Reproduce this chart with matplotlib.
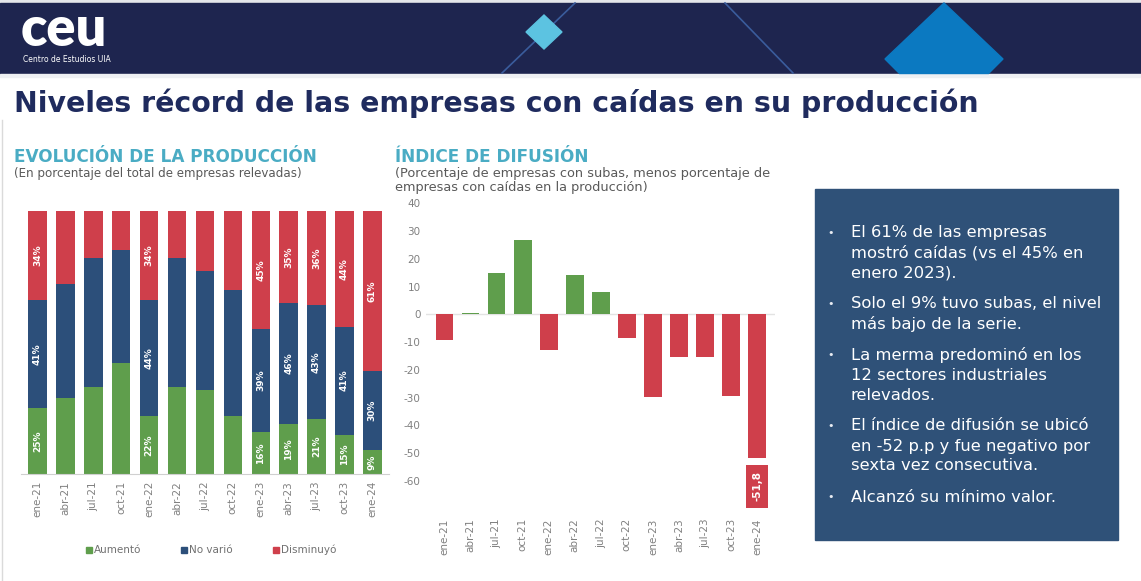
import numpy as np
import matplotlib
matplotlib.use("Agg")
import matplotlib.pyplot as plt
from matplotlib.patches import Rectangle, Polygon
from matplotlib.lines import Line2D

# ---- data ----
periods = ["ene-21", "abr-21", "jul-21", "oct-21", "ene-22", "abr-22", "jul-22",
           "oct-22", "ene-23", "abr-23", "jul-23", "oct-23", "ene-24"]
aumento = [25, 29, 33, 42, 22, 33, 32, 22, 16, 19, 21, 15, 9]
no_vario = [41, 43, 49, 43, 44, 49, 45, 48, 39, 46, 43, 41, 30]
disminuyo = [34, 28, 18, 15, 34, 18, 23, 30, 45, 35, 36, 44, 61]
labeled = ["ene-21", "ene-22", "ene-23", "abr-23", "jul-23", "oct-23", "ene-24"]
difusion = [-9.3, 0.6, 15.0, 26.6, -12.7, 14.0, 7.9, -8.6, -29.7, -15.3, -15.3, -29.6, -51.8]

bullets = [
    ["El 61% de las empresas", "mostró caídas (vs el 45% en", "enero 2023)."],
    ["Solo el 9% tuvo subas, el nivel", "más bajo de la serie."],
    ["La merma predominó en los", "12 sectores industriales", "relevados."],
    ["El índice de difusión se ubicó", "en -52 p.p y fue negativo por",
     "sexta vez consecutiva."],
    ["Alcanzó su mínimo valor."],
]

GREEN = "#5f9e4c"
BLUE = "#2c4f7a"
RED = "#cf3f4b"
NAVY = "#1e254f"
TEAL = "#4aacc4"
GRAY = "#808080"

W, H = 1141, 581
fig = plt.figure(figsize=(W / 100, H / 100), dpi=100)
fig.patch.set_facecolor("white")


def rect(x0, y0, x1, y1):
    # pixel box (top-left origin) -> figure fraction
    return [x0 / W, 1 - y1 / H, (x1 - x0) / W, (y1 - y0) / H]


# background / decoration layer in pixel coords
bg = fig.add_axes([0, 0, 1, 1])
bg.set_xlim(0, W)
bg.set_ylim(H, 0)
bg.axis("off")
bg.add_patch(Rectangle((0, 0), W, 3, color="#e4e6ea"))
bg.add_patch(Rectangle((0, 3), W, 71, color=NAVY))
bg.add_patch(Rectangle((0, 74), W, 3, color="#eef0f3"))
bg.plot([1.5, 1.5], [120, H], color="#dadada", lw=1)
bg.plot([502, 575], [73, 3], color="#3a5c9c", lw=1.2, zorder=1)
bg.plot([725, 793], [3, 73], color="#3a5c9c", lw=1.2, zorder=1)
bg.add_patch(Polygon([[544, 15], [562, 32], [544, 49], [526, 32]],
                     color="#5cc3e1", zorder=3))
bg.add_patch(Polygon([[944, 3], [1003, 59], [988.5, 73.5], [899.5, 73.5], [885, 59]],
                     color="#0b79c1", zorder=3))
bg.text(21, 30, "ceu", color="white", fontsize=39, fontweight="heavy",
        family="Lato", va="center", ha="left")
bg.text(23, 60, "Centro de Estudios UIA", color="white", fontsize=5.5,
        va="center", ha="left")

bg.text(14, 103, "Niveles récord de las empresas con caídas en su producción",
        color="#1f2b5e", fontsize=20.4, fontweight="bold", va="center", ha="left")

bg.text(14, 157, "EVOLUCIÓN DE LA PRODUCCIÓN", color=TEAL, fontsize=12.2,
        fontweight="bold", va="center", ha="left")
bg.text(14, 174, "(En porcentaje del total de empresas relevadas)", color="#595959",
        fontsize=8.6, va="center", ha="left")
bg.text(395, 157, "ÍNDICE DE DIFUSIÓN", color=TEAL, fontsize=12.2,
        fontweight="bold", va="center", ha="left")
bg.text(395, 174, "(Porcentaje de empresas con subas, menos porcentaje de",
        color="#595959", fontsize=9.3, va="center", ha="left")
bg.text(395, 188, "empresas con caídas en la producción)",
        color="#595959", fontsize=9.3, va="center", ha="left")

# text box
bg.add_patch(Rectangle((815, 189), 303, 351, color="#2f5178"))
y = 233
for group in bullets:
    bg.text(827, y, "•", color="#e8ecf2", fontsize=8, va="center", ha="left")
    for line in group:
        bg.text(851, y, line, color="white", fontsize=11.8, va="center", ha="left")
        y += 20
    y += 11

# ---- left chart: stacked bars ----
x = np.arange(len(periods))
ax = fig.add_axes(rect(20.8, 210.7, 389.1, 474))
ax.bar(x, aumento, width=0.66, color=GREEN)
ax.bar(x, no_vario, width=0.66, bottom=aumento, color=BLUE)
bot3 = np.array(aumento) + np.array(no_vario)
ax.bar(x, disminuyo, width=0.66, bottom=bot3, color=RED)
ax.set_xlim(-0.6, 12.6)
ax.set_ylim(0, 100)
for s in ["top", "right", "left"]:
    ax.spines[s].set_visible(False)
ax.spines["bottom"].set_color("#d0d0d0")
ax.set_yticks([])
ax.set_xticks(x)
ax.set_xticklabels(periods, rotation=90, color=GRAY, fontsize=7.5)
ax.tick_params(axis="x", length=0, pad=5)
for i, p in enumerate(periods):
    if p not in labeled:
        continue
    segs = [(0, aumento[i]), (aumento[i], no_vario[i]), (bot3[i], disminuyo[i])]
    for start, v in segs:
        ax.text(i, start + v / 2, f"{v}%", rotation=90, color="white",
                fontsize=6.5, fontweight="bold", ha="center", va="center")

handles = [Line2D([], [], marker="s", ls="", color=c, markersize=5)
           for c in (GREEN, BLUE, RED)]
fig.legend(handles, ["Aumentó", "No varió", "Disminuyó"], loc="center",
           bbox_to_anchor=(210 / W, 1 - 550 / H), ncol=3, frameon=False,
           fontsize=7.5, labelcolor="#707070", handletextpad=0.0, columnspacing=3.6,
           handlelength=1.0)

# ---- right chart: diffusion index ----
ax2 = fig.add_axes(rect(426.3, 203.3, 775.3, 508.5))
cols = [GREEN if v > 0 else RED for v in difusion]
ax2.bar(x, difusion, width=0.68, color=cols)
ax2.set_xlim(-0.7, 12.7)
ax2.set_ylim(-70, 40)
ax2.axhline(0, color="#e3e3e3", lw=1, zorder=0)
for s in ax2.spines.values():
    s.set_visible(False)
ax2.set_yticks(np.arange(-60, 41, 10))
ax2.set_yticklabels([str(t) for t in np.arange(-60, 41, 10)], color=GRAY, fontsize=7.5)
ax2.tick_params(axis="y", length=0, pad=4)
ax2.set_xticks(x)
ax2.set_xticklabels(periods, rotation=90, color=GRAY, fontsize=7.5)
ax2.tick_params(axis="x", length=0, pad=7)
last = difusion[-1]
ax2.text(x[-1], last - 10.2, f"{last:.1f}".replace(".", ","), rotation=90,
         color="white", fontsize=7.5, fontweight="bold", ha="center", va="center",
         bbox=dict(boxstyle="square,pad=0.6", fc=RED, ec="none"))

fig.savefig("out.png", dpi=100)
